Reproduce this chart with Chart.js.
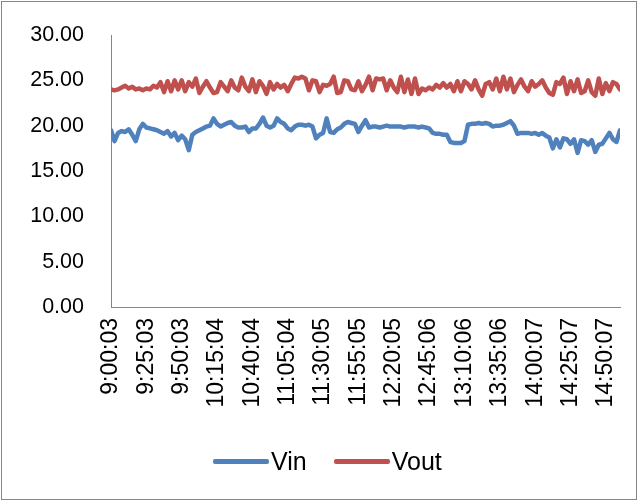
<!DOCTYPE html>
<html lang="en">
<head>
  <meta charset="UTF-8">
  <title>Vin / Vout</title>
  <script src="https://cdn.jsdelivr.net/npm/chart.js"></script>
  <style>
    body { margin: 0; background: #fff; font-family: "Liberation Sans", sans-serif; }
    .frame { position: absolute; left: 1px; top: 1px; width: 634px; height: 497px; border: 1px solid #868686; }
    #chart { position: absolute; left: 0; top: 0; }
    .legend { position: absolute; top: 447px; left: 213px; display: flex; align-items: center; font-size: 25px; color: #000; }
    .legend .key { display: inline-block; width: 56px; height: 5px; border-radius: 2px; margin-right: 2px; }
    .legend .item { display: flex; align-items: center; margin-right: 27px; }
  </style>
</head>
<body>
  <div class="frame"></div>
  <canvas id="chart" width="644" height="501"></canvas>
  <div class="legend">
    <div class="item"><span class="key" style="background:#4F81BD"></span>Vin</div>
    <div class="item"><span class="key" style="background:#C0504D"></span>Vout</div>
  </div>

  <script>
    // one sample per index, x-axis labels every 10 samples
    const tickLabels = ['9:00:03', '9:25:03', '9:50:03', '10:15:04', '10:40:04', '11:05:04', '11:30:05',
      '11:55:05', '12:20:05', '12:45:06', '13:10:06', '13:35:06', '14:00:07', '14:25:07', '14:50:07'];
    const labelEvery = 10;

    const vin = [
      19.5, 18.3, 19.2, 19.4, 19.3, 19.6, 19.0, 18.3, 19.6, 20.2,
      19.8, 19.7, 19.6, 19.5, 19.3, 19.1, 19.4, 18.8, 19.2, 18.4,
      18.9, 18.5, 17.3, 19.0, 19.3, 19.5, 19.7, 19.9, 20.0, 20.8,
      20.2, 19.9, 20.1, 20.3, 20.4, 20.0, 19.8, 19.8, 19.9, 19.3,
      19.7, 19.7, 20.2, 20.9, 20.0, 19.8, 20.0, 20.8, 20.4, 20.2,
      19.7, 19.5, 19.9, 20.1, 20.1, 20.0, 20.1, 19.9, 18.6, 19.0,
      19.2, 20.8, 19.3, 19.2, 19.6, 19.8, 20.2, 20.4, 20.3, 20.2,
      19.3, 20.0, 20.6, 19.8, 19.9, 19.9, 19.8, 19.9, 20.0, 19.9,
      19.9, 19.9, 19.9, 19.8, 19.9, 19.9, 19.9, 19.8, 19.9, 19.8,
      19.7, 19.2, 19.1, 19.1, 19.0, 19.0, 18.2, 18.1, 18.1, 18.1,
      18.3, 20.1, 20.2, 20.2, 20.3, 20.2, 20.3, 20.2, 19.9, 20.0,
      20.0, 20.1, 20.3, 20.5, 20.0, 19.1, 19.2, 19.2, 19.2, 19.1,
      19.2, 19.0, 19.2, 18.9, 18.7, 17.5, 18.5, 17.6, 18.6, 18.5,
      18.0, 18.5, 17.0, 18.4, 18.3, 17.9, 18.4, 17.1, 17.9, 18.0,
      18.6, 19.2, 18.5, 18.2, 19.5
    ];

    const vout = [
      24.0, 23.9, 24.0, 24.2, 24.4, 24.1, 24.3, 24.0, 24.1, 23.9,
      24.1, 24.0, 24.4, 24.2, 24.8, 23.7, 24.9, 23.8, 25.0, 24.0,
      25.0, 23.8, 24.8, 24.3, 25.2, 23.6, 24.3, 24.9, 24.2, 23.6,
      23.7, 24.8, 24.3, 23.8, 25.0, 24.2, 23.9, 25.3, 24.3, 23.8,
      25.1, 23.7, 24.9, 24.4, 23.5, 24.8, 24.0, 24.6, 24.2, 24.5,
      23.8, 24.6, 25.3, 25.2, 25.4, 25.2, 23.9, 25.0, 24.9, 23.7,
      24.5, 24.4, 24.6, 25.4, 23.6, 23.7, 25.0, 24.9, 24.0, 23.9,
      24.9, 23.8, 24.5, 25.4, 23.9, 25.2, 25.1, 25.2, 23.9, 25.0,
      24.2, 23.7, 25.4, 23.7, 25.1, 23.5, 25.2, 23.5, 24.1, 23.9,
      24.2, 24.0, 24.5, 24.2, 24.7, 24.2, 24.6, 23.8, 24.9, 23.8,
      24.9, 24.6, 24.0, 25.0, 24.0, 23.3, 24.6, 24.8, 24.0, 25.2,
      23.8, 25.4, 24.0, 25.2, 23.7, 24.5, 25.1, 24.3, 23.8, 24.9,
      24.3, 24.6, 25.0, 24.2, 23.6, 23.4, 24.8, 24.6, 25.3, 23.5,
      24.9, 23.8, 25.1, 23.6, 23.8, 25.0, 23.7, 23.3, 25.2, 23.5,
      24.7, 23.8, 24.8, 24.6, 24.0
    ];

    const sampleIndex = vin.map((v, i) => i);
    const fontFamily = '"Liberation Sans", sans-serif';

    // invisible tick marks give the label gap without adding scale padding
    const hiddenGrid = len => ({
      display: true, drawOnChartArea: false, drawTicks: true,
      tickLength: len, tickColor: 'rgba(0,0,0,0)'
    });

    new Chart(document.getElementById('chart'), {
      type: 'line',
      data: {
        labels: sampleIndex,
        datasets: [
          { label: 'Vin', data: vin, borderColor: '#4F81BD', backgroundColor: '#4F81BD' },
          { label: 'Vout', data: vout, borderColor: '#C0504D', backgroundColor: '#C0504D' }
        ]
      },
      options: {
        responsive: false,
        animation: false,
        layout: { padding: { top: 35, right: 24, left: 0, bottom: 0 } },
        elements: {
          point: { radius: 0 },
          line: { borderWidth: 4.5, tension: 0, borderJoinStyle: 'round', borderCapStyle: 'round' }
        },
        plugins: { legend: { display: false }, tooltip: { enabled: false } },
        scales: {
          x: {
            type: 'linear',
            min: 0,
            max: vin.length - 1,
            grid: hiddenGrid(11),
            border: { display: true, color: '#868686', width: 1 },
            afterFit: s => { s.height = 194; },
            ticks: {
              stepSize: labelEvery,
              includeBounds: false,
              autoSkip: false,
              minRotation: 90,
              maxRotation: 90,
              padding: 0,
              color: '#000',
              font: { family: fontFamily, size: 23 },
              callback: v => tickLabels[v / labelEvery] || ''
            }
          },
          y: {
            min: 0,
            max: 30,
            grid: hiddenGrid(27),
            border: { display: true, color: '#868686', width: 1 },
            afterFit: s => { s.width = 111; },
            ticks: {
              stepSize: 5,
              padding: 0,
              color: '#000',
              font: { family: fontFamily, size: 21.5 },
              callback: v => v.toFixed(2)
            }
          }
        }
      }
    });
  </script>
</body>
</html>
